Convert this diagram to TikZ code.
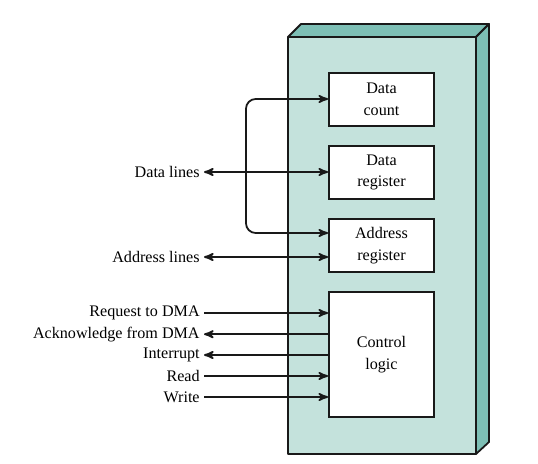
\documentclass[tikz,border=0pt]{standalone}
\usepackage{fontspec}
\setmainfont{Liberation Serif}
\usetikzlibrary{arrows}
\definecolor{facelight}{HTML}{C4E2DC}
\definecolor{facedark}{HTML}{7DBFB5}

\begin{document}
\begin{tikzpicture}[x=0.62pt,y=-0.62pt,font=\fontsize{10}{13.5}\selectfont]
\tikzstyle{reg}=[rectangle, draw=black!90, line width=1.1pt, fill=white, align=center, minimum width=65.1pt, minimum height=32.9pt, inner sep=0pt]
\tikzstyle{lbl}=[anchor=east, inner sep=2.5pt]
\tikzstyle{connect}=[-stealth', line width=1.1pt, black!90]
\tikzstyle{face}=[draw=black!90, line width=1.1pt, line join=round]
\useasboundingbox (0,0) rectangle (538,464);

  % the module
  \draw[face, fill=facedark] (288,37) -- (301,24) -- (489,24) -- (476,37) -- cycle;
  \draw[face, fill=facedark] (476,37) -- (489,24) -- (489,442) -- (476,454) -- cycle;
  \draw[face, fill=facelight] (288,37) rectangle (476,454);

  \node[reg] (cnt) at (381.5,99.5) {Data\\count};
  \node[reg] (dreg) at (381.5,172.5) {Data\\register};
  \node[reg] (areg) at (381.5,245.5) {Address\\register};
  \node[reg, minimum height=77.5pt] (ctl) at (381.5,354.5) {Control\\logic};

  \node[lbl] (dl) at (204,172) {Data lines};
  \node[lbl] (al) at (204,257) {Address lines};
  \node[lbl] (req) at (204,313) {Request to DMA};
  \node[lbl] (ack) at (204,334.2) {Acknowledge from DMA};
  \node[lbl] (intr) at (204,355) {Interrupt};
  \node[lbl] (rd) at (204,376) {Read};
  \node[lbl] (wr) at (204,397) {Write};

  \path (dl.east) edge [connect, stealth'-stealth'] (dl.east -| dreg.west);
  \path (al.east) edge [connect, stealth'-stealth'] (al.east -| areg.west);
  \draw[connect, stealth'-stealth', rounded corners=6pt] (areg.west |- 0,233) -- (246,233) -- (246,99) -- (cnt.west |- 0,99);

  \path (req.east) edge [connect] (req.east -| ctl.west);
  \path (ack.east -| ctl.west) edge [connect] (ack.east);
  \path (intr.east -| ctl.west) edge [connect] (intr.east);
  \path (rd.east) edge [connect] (rd.east -| ctl.west);
  \path (wr.east) edge [connect] (wr.east -| ctl.west);
\end{tikzpicture}
\end{document}
